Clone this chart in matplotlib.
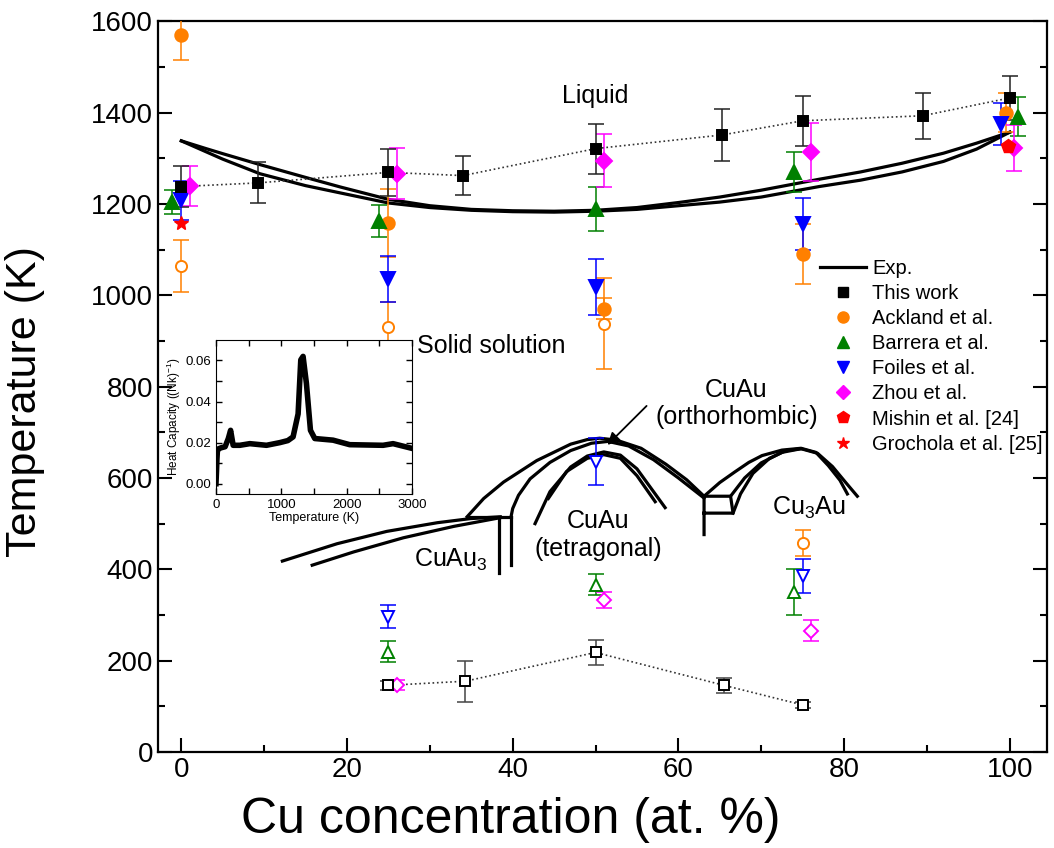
import numpy as np
import matplotlib
matplotlib.use('Agg')
import matplotlib.pyplot as plt
from matplotlib.lines import Line2D

plt.rcParams['font.family'] = ['Liberation Sans', 'DejaVu Sans']
plt.rcParams['mathtext.fontset'] = 'custom'
plt.rcParams['mathtext.rm'] = 'Liberation Sans'
plt.rcParams['mathtext.it'] = 'Liberation Sans:italic'

# ---- simulation data (Cu at.%, T in K) ----
work_x = [0, 9.3, 25, 34, 50, 65.3, 75, 89.5, 100]
work_T = [1238, 1246, 1269, 1262, 1321, 1351, 1382, 1393, 1432]
work_err = [45, 45, 52, 43, 55, 57, 55, 50, 48]

work_low_x = [25, 34.3, 50, 65.5, 75]
work_low_T = [146, 155, 218, 146, 103]
work_low_err = [10, 45, 28, 17, 6]

ackland_x = [0, 25, 51, 75, 99.5]
ackland_T = [1570, 1158, 970, 1090, 1400]
ackland_err = [55, 75, 23, 66, 43]
ackland_low_x = [0, 25, 51, 75]
ackland_low_T = [1064, 930, 938, 458]
ackland_low_err = [57, 56, 99, 28]

barrera_x = [-1.1, 23.9, 50, 74, 101]
barrera_T = [1204, 1162, 1189, 1269, 1391]
barrera_err = [27, 35, 48, 44, 43]
barrera_low_x = [25, 50, 74]
barrera_low_T = [220, 366, 350]
barrera_low_err = [24, 23, 51]

foiles_x = [0, 25, 50, 75, 99]
foiles_T = [1208, 1035, 1018, 1157, 1375]
foiles_err = [43, 50, 62, 57, 45]
foiles_low_x = [25, 50, 75]
foiles_low_T = [296, 636, 386]
foiles_low_err = [25, 51, 37]

zhou_x = [1, 26, 51, 76, 100.5]
zhou_T = [1239, 1266, 1295, 1314, 1323]
zhou_err = [44, 56, 57, 63, 50]
zhou_low_x = [26, 51, 76]
zhou_low_T = [147, 333, 266]
zhou_low_err = [11, 17, 23]

mishin_x = [99.8]
mishin_T = [1326]
grochola_x = [0]
grochola_T = [1159]

# ---- experimental phase diagram ----
liq_x = [0, 3, 5, 9.5, 15, 19.2, 25, 30, 35, 40, 45, 50, 55, 60, 65, 70, 77, 82, 87, 92, 96, 100]
liq_T = [1338, 1321, 1310, 1286, 1258, 1237, 1210, 1196, 1188, 1185, 1184, 1186, 1192, 1203, 1215, 1230, 1254, 1270, 1289, 1311, 1333, 1357]
sol_T = [1338, 1314, 1298, 1266, 1240, 1224, 1202, 1192, 1186, 1183, 1182, 1184, 1188, 1196, 1204, 1215, 1238, 1252, 1270, 1293, 1320, 1357]

cuau3_a_x = [12.2, 18.8, 24.8, 30.9, 34.9, 38.5]
cuau3_a_T = [418, 456, 483, 502, 511, 515]
cuau3_b_x = [15.8, 20.8, 26.8, 32.9, 38.5]
cuau3_b_T = [409, 438, 469, 494, 513]
tie_x = [34.5, 39.8]
tie_T = [515, 515]
vert1_x = [38.4, 38.4]
vert1_T = [515, 391]
vert2_x = [39.8, 39.8]
vert2_T = [515, 410]

cuau_outer_x = [34.5, 36.5, 38.9, 42.9, 47.0, 49.0, 50.5, 52.5, 55.5, 58.5, 61.0, 63.1]
cuau_outer_T = [515, 555, 591, 638, 674, 684, 687, 683, 665, 630, 596, 560]
cuau_second_x = [39.8, 40.0, 40.7, 42.1, 44.5, 47.0, 49.5, 51.5, 54.0, 57.0, 60.0, 63.1]
cuau_second_T = [515, 533, 562, 598, 634, 660, 676, 680, 670, 640, 600, 556]
cuau_in1_x = [42.7, 44.5, 47.0, 49.0, 51.0, 53.0, 55.0, 57.0, 58.4]
cuau_in1_T = [500, 570, 624, 648, 657, 650, 620, 570, 535]
cuau_in2_x = [44.3, 46.5, 49.0, 51.0, 53.0, 55.0, 57.2]
cuau_in2_T = [555, 614, 643, 651, 643, 605, 548]

cu3au_a_x = [63.1, 65.0, 66.8, 68.5, 70.1, 72.5, 74.8, 76.6, 78.1, 79.5, 80.4]
cu3au_a_T = [560, 590, 613, 634, 649, 661, 665, 656, 627, 595, 565]
cu3au_b_x = [66.3, 68.0, 70.0, 72.5, 74.8, 76.8, 78.6, 80.2, 81.6]
cu3au_b_T = [560, 600, 633, 656, 664, 654, 625, 590, 560]
cu3au_c_x = [66.6, 67.5, 69.0, 71.0, 73.0, 74.8]
cu3au_c_T = [523, 565, 610, 643, 660, 664]
box_x = [63.1, 63.1, 66.3, 66.6, 63.1]
box_T = [476, 560, 560, 523, 523]

# ---- inset: heat capacity ----
cp_T = [0, 8, 15, 22, 40, 80, 140, 189, 224, 263, 365, 518, 773, 977, 1100, 1180, 1257, 1298, 1333, 1384, 1446, 1512, 1792, 2047, 2557, 2710, 3000]
cp_v = [0.0, 0.006, 0.012, 0.016, 0.017, 0.0175, 0.018, 0.022, 0.026, 0.0187, 0.0187, 0.0195, 0.0187, 0.020, 0.021, 0.0228, 0.034, 0.0603, 0.062, 0.0489, 0.026, 0.022, 0.0212, 0.019, 0.0187, 0.0195, 0.0172]

fig = plt.figure(figsize=(10.54, 8.48), dpi=100)
ax = fig.add_axes([0.150, 0.1132, 0.8434, 0.8618])

lw_pd = 2.3
for xs, ts in [(liq_x, liq_T), (liq_x, sol_T), (cuau3_a_x, cuau3_a_T), (cuau3_b_x, cuau3_b_T),
               (tie_x, tie_T), (vert1_x, vert1_T), (vert2_x, vert2_T),
               (cuau_outer_x, cuau_outer_T), (cuau_second_x, cuau_second_T),
               (cuau_in1_x, cuau_in1_T), (cuau_in2_x, cuau_in2_T),
               (cu3au_a_x, cu3au_a_T), (cu3au_b_x, cu3au_b_T), (cu3au_c_x, cu3au_c_T),
               (box_x, box_T)]:
    ax.plot(xs, ts, color='k', lw=lw_pd, zorder=2)

def eb(x, y, e, color, marker, ms, filled=True, ecolor=None, ls='none', lcolor=None):
    ax.errorbar(x, y, yerr=e, fmt='none', ecolor=ecolor or color, elinewidth=1.1,
                capsize=6, capthick=1.1, zorder=3)
    if ls != 'none':
        ax.plot(x, y, ls=ls, color=lcolor, lw=1.2, zorder=3)
    ax.plot(x, y, ls='none', marker=marker, ms=ms, color=color,
            mfc=color if filled else 'white', mec=color, mew=1.4, zorder=4)

orange, green, blue, magenta, red = '#ff8000', '#008000', '#0000ff', '#ff00ff', '#ff0000'

eb(ackland_x, ackland_T, ackland_err, orange, 'o', 9)
eb(ackland_low_x, ackland_low_T, ackland_low_err, orange, 'o', 8, filled=False)
eb(barrera_x, barrera_T, barrera_err, green, '^', 10)
eb(barrera_low_x, barrera_low_T, barrera_low_err, green, '^', 9, filled=False)
eb(foiles_x, foiles_T, foiles_err, blue, 'v', 10)
eb(foiles_low_x, foiles_low_T, foiles_low_err, blue, 'v', 9, filled=False)
eb(zhou_x, zhou_T, zhou_err, magenta, 'D', 8)
eb(zhou_low_x, zhou_low_T, zhou_low_err, magenta, 'D', 7, filled=False)
eb(work_x, work_T, work_err, 'k', 's', 7.5, ecolor='#222222', ls=':', lcolor='#333333')
eb(work_low_x, work_low_T, work_low_err, 'k', 's', 7.5, filled=False, ecolor='#444444', ls=':', lcolor='#333333')
ax.plot(mishin_x, mishin_T, ls='none', marker='p', ms=10, color=red, zorder=4)
ax.plot(grochola_x, grochola_T, ls='none', marker='*', ms=10, color=red, zorder=5)

ax.set_xlim(-2.8, 104.5)
ax.set_ylim(0, 1600)
ax.set_xticks(np.arange(0, 101, 20))
ax.set_xticks(np.arange(10, 101, 20), minor=True)
ax.set_yticks(np.arange(0, 1601, 200))
ax.set_yticks(np.arange(100, 1600, 200), minor=True)
ax.tick_params(which='both', direction='in', right=True, labelsize=20, width=1.5)
ax.tick_params(which='major', length=10)
ax.tick_params(which='minor', length=5)
for s in ax.spines.values():
    s.set_linewidth(1.6)
ax.set_xlabel('Cu concentration (at. %)', fontsize=36)
ax.xaxis.set_label_coords(0.397, -0.062, transform=ax.transAxes)
ax.xaxis.label.set_va('top')
ax.set_ylabel('Temperature (K)', fontsize=31)
ax.yaxis.set_label_coords(-0.127, 0.48, transform=ax.transAxes)

fs = 18
ax.text(50, 1436, 'Liquid', fontsize=fs, ha='center', va='center')
ax.text(28.4, 888, 'Solid solution', fontsize=fs, ha='left', va='center')
ax.text(67, 763, 'CuAu\n(orthorhombic)', fontsize=fs, ha='center', va='center', linespacing=1.2)
ax.text(50.3, 475, 'CuAu\n(tetragonal)', fontsize=fs, ha='center', va='center', linespacing=1.2)
ax.text(32.5, 420, 'CuAu$_3$', fontsize=fs, ha='center', va='center')
ax.text(75.7, 535, 'Cu$_3$Au', fontsize=fs, ha='center', va='center')
ax.annotate('', xy=(51.2, 668), xytext=(56.4, 762),
            arrowprops=dict(arrowstyle='-|>', color='k', lw=1.3, mutation_scale=18))

handles = [
    Line2D([], [], color='k', lw=2.3),
    Line2D([], [], ls='none', marker='s', ms=7, color='k'),
    Line2D([], [], ls='none', marker='o', ms=8, color=orange),
    Line2D([], [], ls='none', marker='^', ms=8, color=green),
    Line2D([], [], ls='none', marker='v', ms=8, color=blue),
    Line2D([], [], ls='none', marker='D', ms=7, color=magenta),
    Line2D([], [], ls='none', marker='p', ms=9, color=red),
    Line2D([], [], ls='none', marker='*', ms=9, color=red),
]
labels = ['Exp.', 'This work', 'Ackland et al.', 'Barrera et al.', 'Foiles et al.',
          'Zhou et al.', 'Mishin et al. [24]', 'Grochola et al. [25]']
ax.legend(handles, labels, loc='upper left', bbox_to_anchor=(0.733, 0.688), frameon=False,
          fontsize=14.5, handlelength=2.3, handletextpad=0.3, labelspacing=0.3, borderpad=0)

# inset
ins = fig.add_axes([0.2049, 0.4175, 0.186, 0.1816])
ins.plot(cp_T, cp_v, color='k', lw=4, solid_joinstyle='round')
ins.set_xlim(0, 3000)
ins.set_ylim(-0.005, 0.07)
ins.set_xticks([0, 1000, 2000, 3000])
ins.set_xticks([500, 1500, 2500], minor=True)
ins.set_yticks([0.0, 0.02, 0.04, 0.06])
ins.set_yticks([0.01, 0.03, 0.05], minor=True)
ins.set_yticklabels(['0.00', '0.02', '0.04', '0.06'])
ins.tick_params(which='both', direction='in', top=True, right=True, labelsize=9.5, length=4, width=1)
ins.set_xlabel('Temperature (K)', fontsize=9, labelpad=1)
ins.set_ylabel('Heat Capacity ((Nk)$^{-1}$)', fontsize=8.5, labelpad=2)

fig.savefig('out.png', dpi=100)
